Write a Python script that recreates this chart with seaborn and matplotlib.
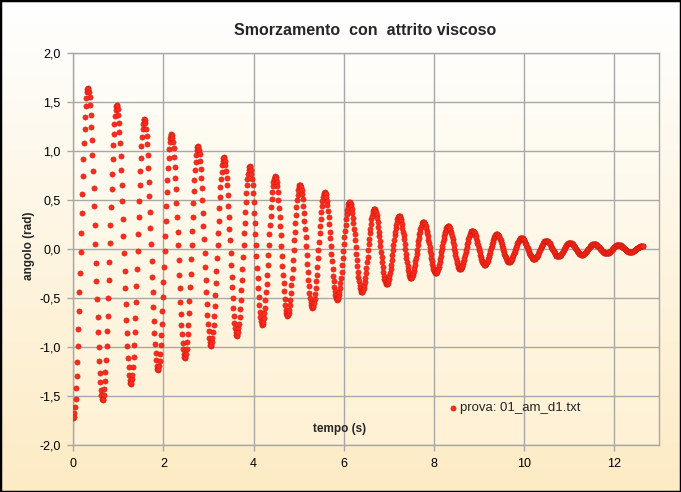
import numpy as np
import pandas as pd
import matplotlib
matplotlib.use('Agg')
import matplotlib.pyplot as plt
import seaborn as sns
from matplotlib.colors import LinearSegmentedColormap
from matplotlib.ticker import FuncFormatter, MultipleLocator
from matplotlib.patches import Rectangle

# intervallo di campionamento (s)
passo = 0.0125

# angolo (rad), un semiperiodo per riga
angolo = [
    -1.72, -1.71, -1.67, -1.61, -1.53, -1.42, -1.30, -1.15, -0.99, -0.82, -0.63, -0.44, -0.24, -0.03, 0.17, 0.37, 0.56, 0.75, 0.92, 1.08, 1.23, 1.35, 1.46, 1.54, 1.60, 1.64,
    1.65, 1.64, 1.60, 1.55, 1.47, 1.37, 1.25, 1.11, 0.96, 0.80, 0.62, 0.44, 0.25, 0.05, -0.14, -0.33, -0.51, -0.69, -0.85, -1.00, -1.14, -1.26, -1.36, -1.44, -1.49, -1.53,
    -1.54, -1.53, -1.49, -1.43, -1.35, -1.25, -1.13, -0.99, -0.84, -0.68, -0.50, -0.32, -0.13, 0.06, 0.25, 0.43, 0.61, 0.77, 0.92, 1.06, 1.18, 1.28, 1.36, 1.42, 1.46,
    1.47, 1.46, 1.43, 1.37, 1.29, 1.20, 1.08, 0.95, 0.81, 0.65, 0.49, 0.31, 0.13, -0.04, -0.22, -0.40, -0.56, -0.72, -0.86, -0.99, -1.11, -1.20, -1.28, -1.34, -1.37,
    -1.38, -1.37, -1.33, -1.28, -1.20, -1.10, -0.98, -0.85, -0.70, -0.54, -0.38, -0.20, -0.02, 0.15, 0.33, 0.49, 0.65, 0.80, 0.93, 1.05, 1.15, 1.23, 1.28, 1.32,
    1.33, 1.32, 1.29, 1.23, 1.16, 1.07, 0.96, 0.83, 0.69, 0.54, 0.38, 0.22, 0.05, -0.12, -0.28, -0.44, -0.59, -0.73, -0.86, -0.97, -1.06, -1.13, -1.19, -1.22,
    -1.23, -1.22, -1.19, -1.14, -1.07, -0.98, -0.88, -0.76, -0.63, -0.49, -0.34, -0.18, -0.02, 0.13, 0.29, 0.44, 0.58, 0.71, 0.83, 0.93, 1.02, 1.09, 1.14, 1.17,
    1.18, 1.17, 1.14, 1.09, 1.03, 0.94, 0.84, 0.73, 0.61, 0.47, 0.33, 0.18, 0.04, -0.11, -0.26, -0.40, -0.54, -0.66, -0.77, -0.87, -0.96, -1.02, -1.07, -1.10,
    -1.11, -1.10, -1.07, -1.02, -0.95, -0.87, -0.77, -0.65, -0.53, -0.39, -0.25, -0.10, 0.04, 0.19, 0.33, 0.47, 0.59, 0.71, 0.81, 0.89, 0.96, 1.01, 1.04,
    1.05, 1.04, 1.01, 0.97, 0.90, 0.82, 0.73, 0.62, 0.50, 0.37, 0.24, 0.10, -0.04, -0.18, -0.31, -0.44, -0.56, -0.67, -0.76, -0.84, -0.91, -0.95, -0.98,
    -0.99, -0.98, -0.95, -0.91, -0.85, -0.77, -0.68, -0.58, -0.47, -0.35, -0.22, -0.09, 0.04, 0.17, 0.29, 0.42, 0.53, 0.63, 0.72, 0.79, 0.86, 0.90, 0.93,
    0.94, 0.93, 0.90, 0.86, 0.80, 0.73, 0.65, 0.55, 0.44, 0.33, 0.21, 0.09, -0.04, -0.16, -0.28, -0.39, -0.50, -0.60, -0.68, -0.75, -0.81, -0.85, -0.88,
    -0.89, -0.88, -0.85, -0.81, -0.76, -0.69, -0.61, -0.52, -0.42, -0.31, -0.20, -0.08, 0.04, 0.16, 0.27, 0.38, 0.48, 0.57, 0.65, 0.72, 0.77, 0.81, 0.84,
    0.85, 0.84, 0.81, 0.77, 0.72, 0.65, 0.57, 0.48, 0.37, 0.27, 0.15, 0.04, -0.07, -0.19, -0.29, -0.40, -0.49, -0.57, -0.64, -0.69, -0.73, -0.76,
    -0.77, -0.76, -0.74, -0.70, -0.65, -0.60, -0.52, -0.44, -0.36, -0.26, -0.16, -0.06, 0.04, 0.15, 0.25, 0.34, 0.43, 0.51, 0.58, 0.64, 0.69, 0.72, 0.74,
    0.75, 0.74, 0.72, 0.69, 0.64, 0.58, 0.50, 0.42, 0.33, 0.24, 0.14, 0.03, -0.07, -0.17, -0.26, -0.35, -0.43, -0.51, -0.57, -0.62, -0.65, -0.67,
    -0.68, -0.67, -0.65, -0.62, -0.57, -0.52, -0.45, -0.37, -0.29, -0.20, -0.11, -0.01, 0.09, 0.18, 0.27, 0.35, 0.43, 0.50, 0.55, 0.60, 0.63, 0.65,
    0.66, 0.65, 0.63, 0.60, 0.56, 0.51, 0.44, 0.37, 0.29, 0.21, 0.12, 0.03, -0.06, -0.15, -0.23, -0.31, -0.38, -0.45, -0.50, -0.54, -0.57, -0.59,
    -0.60, -0.59, -0.58, -0.55, -0.51, -0.46, -0.40, -0.33, -0.26, -0.18, -0.09, -0.01, 0.07, 0.16, 0.24, 0.31, 0.38, 0.44, 0.49, 0.53, 0.56, 0.57,
    0.58, 0.57, 0.56, 0.53, 0.49, 0.45, 0.39, 0.33, 0.26, 0.18, 0.11, 0.03, -0.05, -0.12, -0.20, -0.27, -0.33, -0.39, -0.43, -0.47, -0.50, -0.51,
    -0.52, -0.51, -0.50, -0.47, -0.44, -0.40, -0.35, -0.29, -0.23, -0.16, -0.09, -0.02, 0.05, 0.12, 0.19, 0.25, 0.31, 0.36, 0.40, 0.43, 0.46, 0.47,
    0.48, 0.48, 0.46, 0.44, 0.41, 0.37, 0.32, 0.27, 0.21, 0.15, 0.09, 0.02, -0.05, -0.11, -0.17, -0.23, -0.28, -0.33, -0.37, -0.40, -0.42, -0.44,
    -0.44, -0.44, -0.42, -0.40, -0.37, -0.34, -0.29, -0.24, -0.19, -0.13, -0.08, -0.01, 0.05, 0.10, 0.16, 0.21, 0.26, 0.31, 0.34, 0.37, 0.39, 0.41,
    0.41, 0.41, 0.39, 0.38, 0.35, 0.32, 0.28, 0.23, 0.18, 0.13, 0.08, 0.03, -0.03, -0.08, -0.13, -0.18, -0.23, -0.27, -0.30, -0.33, -0.34, -0.36,
    -0.36, -0.36, -0.35, -0.33, -0.30, -0.27, -0.24, -0.20, -0.16, -0.11, -0.06, -0.01, 0.04, 0.09, 0.14, 0.18, 0.22, 0.25, 0.28, 0.31, 0.33, 0.34,
    0.34, 0.34, 0.33, 0.31, 0.29, 0.26, 0.22, 0.18, 0.14, 0.10, 0.05, 0.00, -0.05, -0.09, -0.13, -0.17, -0.21, -0.24, -0.26, -0.28, -0.29,
    -0.29, -0.29, -0.28, -0.26, -0.24, -0.22, -0.19, -0.16, -0.12, -0.09, -0.05, -0.01, 0.04, 0.08, 0.11, 0.15, 0.18, 0.21, 0.23, 0.25, 0.27, 0.28,
    0.28, 0.28, 0.27, 0.26, 0.24, 0.22, 0.19, 0.16, 0.13, 0.09, 0.06, 0.02, -0.02, -0.05, -0.09, -0.12, -0.15, -0.18, -0.20, -0.22, -0.23, -0.24,
    -0.24, -0.24, -0.23, -0.22, -0.20, -0.18, -0.16, -0.13, -0.10, -0.07, -0.03, 0.00, 0.03, 0.07, 0.10, 0.13, 0.16, 0.18, 0.20, 0.22, 0.23, 0.24,
    0.24, 0.24, 0.23, 0.22, 0.20, 0.18, 0.16, 0.13, 0.10, 0.07, 0.04, 0.00, -0.03, -0.06, -0.09, -0.12, -0.14, -0.16, -0.18, -0.19, -0.20,
    -0.200, -0.198, -0.192, -0.182, -0.169, -0.152, -0.133, -0.110, -0.086, -0.060, -0.033, -0.005, 0.023, 0.050, 0.076, 0.100, 0.123, 0.142, 0.159, 0.172, 0.182, 0.188,
    0.190, 0.188, 0.183, 0.174, 0.162, 0.147, 0.130, 0.110, 0.088, 0.064, 0.040, 0.015, -0.010, -0.034, -0.058, -0.080, -0.100, -0.117, -0.132, -0.144, -0.153, -0.158,
    -0.160, -0.158, -0.153, -0.144, -0.133, -0.118, -0.101, -0.081, -0.060, -0.038, -0.014, 0.009, 0.033, 0.055, 0.076, 0.096, 0.113, 0.128, 0.139, 0.148, 0.153,
    0.155, 0.154, 0.149, 0.142, 0.132, 0.120, 0.106, 0.090, 0.072, 0.053, 0.033, 0.013, -0.008, -0.028, -0.047, -0.065, -0.081, -0.095, -0.107, -0.117, -0.124, -0.129,
    -0.130, -0.129, -0.125, -0.119, -0.111, -0.100, -0.088, -0.074, -0.058, -0.042, -0.025, -0.008, 0.010, 0.027, 0.043, 0.059, 0.073, 0.085, 0.096, 0.104, 0.110, 0.114,
    0.115, 0.114, 0.111, 0.105, 0.098, 0.089, 0.078, 0.066, 0.052, 0.038, 0.023, 0.008, -0.008, -0.023, -0.037, -0.051, -0.063, -0.074, -0.083, -0.090, -0.096, -0.099,
    -0.100, -0.099, -0.096, -0.092, -0.085, -0.077, -0.068, -0.057, -0.045, -0.032, -0.019, -0.006, 0.007, 0.020, 0.033, 0.045, 0.056, 0.065, 0.073, 0.080, 0.084, 0.087,
    0.088, 0.087, 0.084, 0.080, 0.074, 0.066, 0.058, 0.048, 0.037, 0.025, 0.013, 0.001, -0.011, -0.023, -0.034, -0.043, -0.052, -0.060, -0.066, -0.070, -0.073,
    -0.074, -0.073, -0.071, -0.067, -0.062, -0.055, -0.048, -0.039, -0.029, -0.019, -0.009, 0.002, 0.012, 0.022, 0.032, 0.040, 0.048, 0.055, 0.060, 0.064, 0.066,
    0.067, 0.066, 0.064, 0.061, 0.056, 0.050, 0.044, 0.036, 0.028, 0.019, 0.010, 0.000, -0.009, -0.018, -0.026, -0.034, -0.040, -0.046, -0.051, -0.054, -0.056,
    -0.057, -0.056, -0.055, -0.052, -0.048, -0.044, -0.038, -0.032, -0.025, -0.018, -0.010, -0.002, 0.006, 0.014, 0.021, 0.028, 0.034, 0.040, 0.044, 0.048, 0.051, 0.052,
    0.053, 0.052, 0.051, 0.049, 0.045, 0.041, 0.036, 0.031, 0.025, 0.018, 0.012, 0.005, -0.002, -0.009, -0.015, -0.021, -0.026, -0.031, -0.035, -0.039, -0.041, -0.043,
    -0.043, -0.042, -0.041, -0.039, -0.035, -0.031, -0.026, -0.021, -0.015, -0.008, -0.002, 0.005, 0.011, 0.018, 0.024, 0.029, 0.034, 0.038, 0.042, 0.044, 0.045,
    0.046, 0.046, 0.044, 0.042, 0.039, 0.036, 0.032, 0.027, 0.022, 0.016, 0.011, 0.005, 0.000, -0.006, -0.011, -0.016, -0.020, -0.024, -0.026, -0.028, -0.030,
    -0.030, -0.030, -0.029, -0.027, -0.025, -0.022, -0.019, -0.015, -0.011, -0.007, -0.002, 0.003, 0.007, 0.012, 0.016, 0.020, 0.024, 0.027, 0.030, 0.032, 0.034, 0.035,
    0.035, 0.034,
]

tempo = np.arange(len(angolo)) * passo
df = pd.DataFrame({'tempo': tempo, 'angolo': angolo})

titolo = 'Smorzamento  con  attrito viscoso'
etichetta_x = 'tempo (s)'
etichetta_y = 'angolo (rad)'
serie = 'prova: 01_am_d1.txt'

sns.set_theme(style='white')
plt.rcParams['font.family'] = ['Liberation Sans', 'DejaVu Sans']

fig = plt.figure(figsize=(6.81, 4.92), dpi=100)

# sfondo del grafico (sfumatura bianco -> crema)
bg = fig.add_axes([0, 0, 1, 1], zorder=-10)
bg.axis('off')
cm_fig = LinearSegmentedColormap.from_list('fondo', ['#FFFFFF', '#FDEBC4'])
bg.imshow(np.linspace(0, 1, 256)[:, None], aspect='auto', cmap=cm_fig, extent=[0, 1, 0, 1])

ax = fig.add_axes([0.1076, 0.0955, 0.8608, 0.7962])
cm_area = LinearSegmentedColormap.from_list('area', ['#FFFEFA', '#FEF1D4'])
ax.imshow(np.linspace(0, 1, 256)[:, None], aspect='auto', cmap=cm_area,
          extent=[0, 13, -2, 2], zorder=0)

sns.scatterplot(data=df, x='tempo', y='angolo', ax=ax, s=14, color='#FF2B1C',
                edgecolor='#D0180C', linewidth=0.4, label=serie, zorder=3)

ax.set_xlim(0, 13)
ax.set_ylim(-2, 2)
ax.xaxis.set_major_locator(MultipleLocator(2))
ax.yaxis.set_major_locator(MultipleLocator(0.5))
ax.yaxis.set_major_formatter(FuncFormatter(lambda v, p: f'{v:.1f}'.replace('.', ',')))
ax.set_axisbelow(True)
ax.grid(True, color='#A8A8A8', lw=1)
for s in ax.spines.values():
    s.set_color('#A8A8A8')
    s.set_linewidth(1)
ax.tick_params(axis='both', bottom=True, left=True, length=4, width=1, color='#A8A8A8',
               labelsize=9, pad=5, direction='out', labelcolor='black')
ax.set_xlabel('')
ax.set_ylabel('')

ax.text(0.455, 0.041, etichetta_x, transform=ax.transAxes, ha='center', va='center',
        fontsize=8.5, fontweight='bold')
fig.text(0.043, 0.5, etichetta_y, rotation=90, ha='center', va='center',
         fontsize=8.5, fontweight='bold')
fig.text(0.536, 0.939, titolo, ha='center', va='center', fontsize=11.5, fontweight='bold')

ax.legend(loc='center left', bbox_to_anchor=(0.638, 0.094), frameon=False, fontsize=9.5,
          handletextpad=0.2, handlelength=0.8, borderaxespad=0, borderpad=0)

fig.add_artist(Rectangle((0, 0), 1, 1, transform=fig.transFigure, fill=False,
                         edgecolor='black', lw=2.5))

fig.savefig('out.png', dpi=100)
